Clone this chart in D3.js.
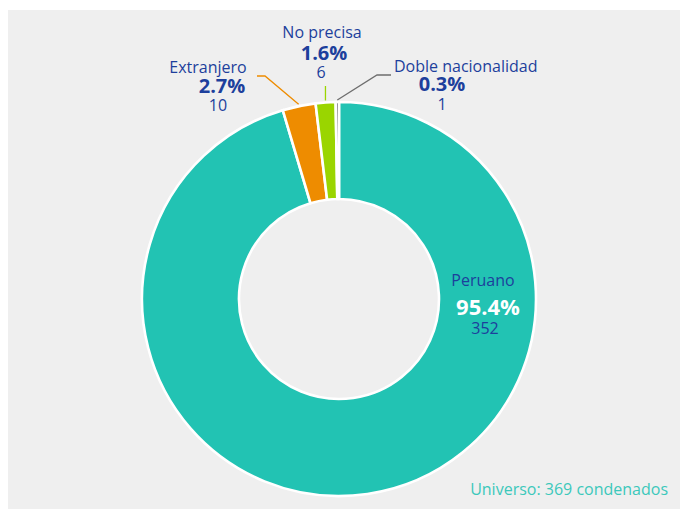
<!DOCTYPE html>
<html><head><meta charset="utf-8">
<script src="https://cdn.jsdelivr.net/npm/d3@7"></script>
<style>html,body{margin:0;padding:0;background:#fff}svg{display:block}text{font-family:"Open Sans",sans-serif}</style>
</head><body>
<svg id="c" width="680" height="509"></svg>
<script>
const categories = ["Peruano", "Extranjero", "No precisa", "Doble nacionalidad"];
const counts = [352, 10, 6, 1];
const percentLabels = ["95.4%", "2.7%", "1.6%", "0.3%"];
const colors = ["#22c3b3", "#ee8c00", "#9ad500", "#6e6e6e"];
const footnote = "Universo: 369 condenados";

const W = 680, H = 509;
const cx = 339, cy = 299, rOuter = 197, rInner = 100;
const blue = "#1d3f9c";

const svg = d3.select("#c");
svg.append("rect").attr("x", 8).attr("y", 10).attr("width", W - 8).attr("height", H - 10).attr("fill", "#efefef");

const data = categories.map((c, i) => ({cat: c, n: counts[i], pct: percentLabels[i], color: colors[i]}));
const pie = d3.pie().value(d => d.n).sort(null).startAngle(0).endAngle(2 * Math.PI);
const arcs = pie(data);
const arc = d3.arc().innerRadius(rInner).outerRadius(rOuter);

const g = svg.append("g").attr("transform", `translate(${cx},${cy})`);
g.selectAll("path.slice").data(arcs).enter().append("path")
  .attr("class", "slice")
  .attr("d", arc)
  .attr("fill", d => d.data.color)
  .attr("stroke", "#fff").attr("stroke-width", 2.6).attr("stroke-linejoin", "miter");

// leader lines & labels for small slices
const layout = {
  "Extranjero": {elbow: [-74, -223], end: [-82, -223], title: [-131, -226], anchorTitle: "middle", pct: [-117, -206], cnt: [-121, -188]},
  "No precisa": {elbow: null, end: [-15, -213], title: [-17, -261], anchorTitle: "middle", pct: [-15, -239], cnt: [-18, -221]},
  "Doble nacionalidad": {elbow: [38, -224], end: [52, -224], title: [55, -227], anchorTitle: "start", pct: [103, -208], cnt: [103, -189]}
};

arcs.forEach(a => {
  const L = layout[a.data.cat];
  if (!L) return;
  const mid = (a.startAngle + a.endAngle) / 2;
  const p0 = [Math.sin(mid) * (rOuter + 2), -Math.cos(mid) * (rOuter + 2)];
  const pts = L.elbow ? [p0, L.elbow, L.end] : [p0, [p0[0], L.end[1]]];
  g.append("path").attr("d", d3.line()(pts)).attr("fill", "none")
    .attr("stroke", a.data.color).attr("stroke-width", 1.3);
  g.append("text").attr("x", L.title[0]).attr("y", L.title[1]).attr("text-anchor", L.anchorTitle)
    .attr("font-size", 16).attr("fill", blue).text(a.data.cat);
  g.append("text").attr("x", L.pct[0]).attr("y", L.pct[1]).attr("text-anchor", "middle")
    .attr("font-size", 20).attr("font-weight", "bold").attr("fill", blue).text(a.data.pct);
  g.append("text").attr("x", L.cnt[0]).attr("y", L.cnt[1]).attr("text-anchor", "middle")
    .attr("font-size", 16).attr("fill", blue).text(a.data.n);
});

// Peruano label inside the ring
const big = arcs[0];
g.append("text").attr("x", 144).attr("y", -13).attr("text-anchor", "middle")
  .attr("font-size", 16).attr("fill", blue).text(big.data.cat);
g.append("text").attr("x", 149).attr("y", 16).attr("text-anchor", "middle")
  .attr("font-size", 22).attr("font-weight", "bold").attr("fill", "#fff").text(big.data.pct);
g.append("text").attr("x", 146).attr("y", 35).attr("text-anchor", "middle")
  .attr("font-size", 16).attr("fill", blue).text(big.data.n);

svg.append("text").attr("x", 668).attr("y", 495).attr("text-anchor", "end")
  .attr("font-size", 16).attr("fill", "#3cc8bb").text(footnote);
</script>
</body></html>
